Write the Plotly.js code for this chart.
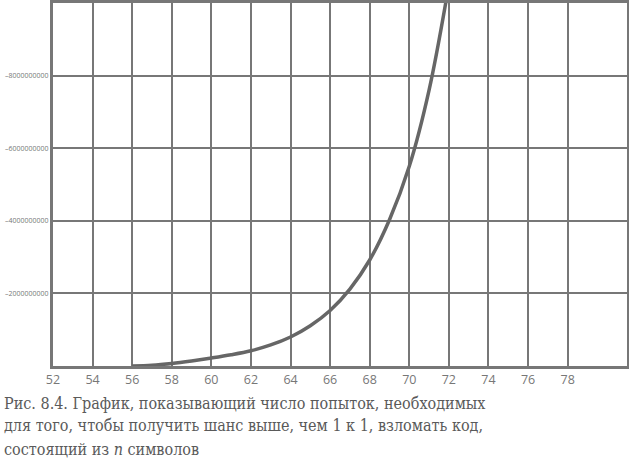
<!DOCTYPE html>
<html>
<head>
<meta charset="utf-8">
<script src="https://cdn.plot.ly/plotly-3.0.1.min.js"></script>
<style>html,body{margin:0;padding:0;background:#fff;}#chart{width:629px;height:465px;}</style>
</head>
<body>
<div id="chart"></div>
<script>
const xValues = [56, 57, 58, 59, 60, 61, 62, 63, 64, 65, 66, 67, 68, 69, 70, 71, 72];
const yValues = [0, 0.02e9, 0.07e9, 0.14e9, 0.22e9, 0.31e9, 0.42e9, 0.58e9, 0.8e9, 1.11e9, 1.53e9, 2.12e9, 2.92e9, 4.03e9, 5.5e9, 7.6e9, 10.5e9];
const xTickVals = [52, 54, 56, 58, 60, 62, 64, 66, 68, 70, 72, 74, 76, 78];
const yTickVals = [2e9, 4e9, 6e9, 8e9];
const yTickText = ['–2000000000', '–4000000000', '–6000000000', '–8000000000'];
const captionLines = [
  'Рис. 8.4. График, показывающий число попыток, необходимых',
  'для того, чтобы получить шанс выше, чем 1 к 1, взломать код,',
  'состоящий из <i>n</i> символов'
];

const W = 629, H = 465;
const m = {l: 53, r: 2, t: 3, b: 99};
const plotW = W - m.l - m.r, plotH = H - m.t - m.b;
const px2x = p => (p - m.l) / plotW;
const px2y = p => (H - m.b - p) / plotH;

const trace = {
  x: xValues, y: yValues, type: 'scatter', mode: 'lines',
  line: {color: '#666666', width: 3.5, shape: 'spline', smoothing: 1},
  hoverinfo: 'skip'
};

const annotations = captionLines.map((t, i) => ({
  text: t, showarrow: false,
  xref: 'paper', yref: 'paper',
  x: px2x(2), y: px2y(403 + i * 23),
  xanchor: 'left', yanchor: 'middle', align: 'left',
  font: {family: 'DejaVu Serif Condensed, DejaVu Serif, serif', size: 16, color: '#5a5a5a'}
}));

const layout = {
  width: W, height: H,
  margin: m,
  paper_bgcolor: '#ffffff', plot_bgcolor: '#ffffff',
  showlegend: false,
  font: {family: 'Open Sans, sans-serif', color: '#777777'},
  xaxis: {
    range: [52, 81], tickvals: xTickVals, ticktext: xTickVals.map(String),
    showgrid: true, gridcolor: '#777777', gridwidth: 2,
    showline: true, mirror: true, linecolor: '#777777', linewidth: 3,
    zeroline: false, ticks: '', ticklen: 0,
    tickfont: {family: 'Open Sans, sans-serif', size: 12.5, color: '#777777'},
    fixedrange: true
  },
  yaxis: {
    range: [0, 1e10], tickvals: yTickVals, ticktext: yTickText,
    showgrid: true, gridcolor: '#777777', gridwidth: 2,
    showline: true, mirror: true, linecolor: '#777777', linewidth: 3,
    zeroline: false, ticks: '', ticklen: 0,
    tickfont: {family: 'Open Sans, sans-serif', size: 7, color: '#777777'},
    fixedrange: true
  },
  annotations: annotations
};

Plotly.newPlot('chart', [trace], layout, {displayModeBar: false, staticPlot: true});
</script>
</body>
</html>
